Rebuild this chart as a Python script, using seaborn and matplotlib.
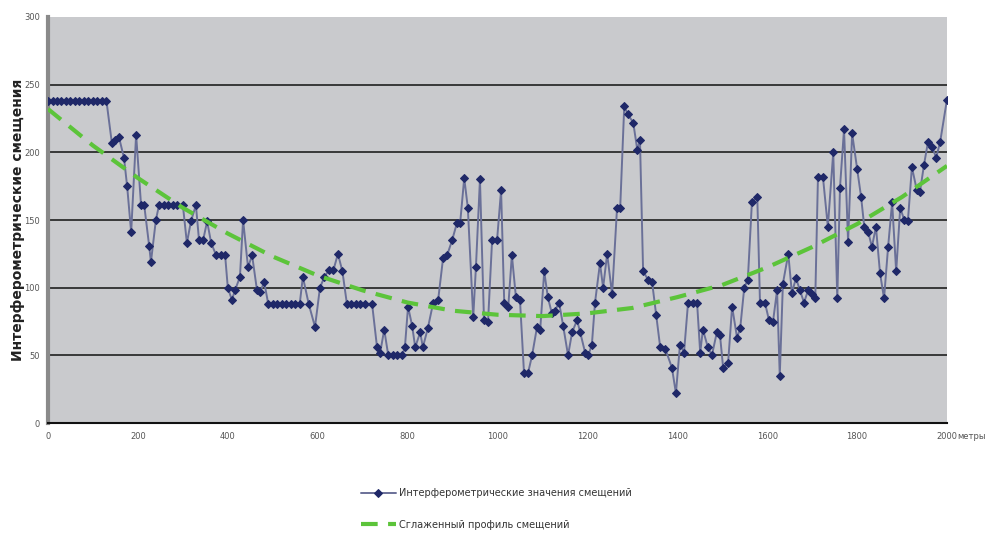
import matplotlib
matplotlib.use("Agg")
import matplotlib.pyplot as plt
import seaborn as sns

# distance along profile, metres
dist_m = [0, 10, 20, 30, 40, 50, 60, 70, 80, 90, 100, 110, 120, 130,
          142, 150, 158, 169, 176, 185, 196, 207, 214, 225, 229, 240,
          247, 257, 267, 277, 287, 300, 309, 318, 329, 336, 345, 354,
          363, 374, 385, 394, 400, 409, 416, 427, 434, 445, 454, 465,
          472, 481, 490, 500, 510, 520, 530, 540, 550, 560, 567, 580,
          594, 605, 615, 625, 635, 645, 655, 665, 675, 685, 695, 705,
          721, 732, 739, 748, 757, 767, 777, 788, 794, 801, 810, 817,
          828, 834, 845, 857, 868, 879, 888, 899, 910, 917, 926, 934,
          946, 952, 961, 970, 979, 988, 999, 1008, 1015, 1024, 1032, 1041,
          1050, 1059, 1068, 1077, 1088, 1095, 1104, 1112, 1121, 1128, 1137,
          1146, 1157, 1166, 1177, 1184, 1195, 1202, 1210, 1217, 1228, 1235,
          1244, 1255, 1266, 1273, 1282, 1290, 1302, 1311, 1317, 1324, 1335,
          1344, 1353, 1362, 1373, 1388, 1397, 1406, 1415, 1424, 1435, 1444,
          1451, 1457, 1468, 1477, 1488, 1495, 1502, 1513, 1522, 1533, 1540,
          1549, 1557, 1566, 1578, 1584, 1595, 1604, 1613, 1622, 1628, 1635,
          1647, 1655, 1664, 1673, 1682, 1691, 1700, 1707, 1713, 1724, 1735,
          1747, 1756, 1762, 1771, 1780, 1789, 1800, 1809, 1816, 1825, 1833,
          1842, 1851, 1860, 1869, 1878, 1887, 1896, 1905, 1913, 1922, 1933,
          1940, 1949, 1958, 1967, 1976, 1985, 2000]

# interferometric displacement values
disp = [238, 238, 238, 238, 238, 238, 238, 238, 238, 238, 238, 238, 238, 238,
        207, 209, 211, 196, 175, 141, 213, 161, 161, 131, 119, 150,
        161, 161, 161, 161, 161, 161, 133, 149, 161, 135, 135, 149,
        133, 124, 124, 124, 100, 91, 98, 108, 150, 115, 124, 98,
        97, 104, 88, 88, 88, 88, 88, 88, 88, 88, 108, 88,
        71, 100, 108, 113, 113, 125, 112, 88, 88, 88, 88, 88,
        88, 56, 52, 69, 50, 50, 50, 50, 56, 86, 72, 56,
        67, 56, 70, 89, 91, 122, 124, 135, 148, 148, 181, 159,
        78, 115, 180, 76, 75, 135, 135, 172, 89, 86, 124, 93,
        91, 37, 37, 50, 71, 69, 112, 93, 81, 83, 89,
        72, 50, 67, 76, 67, 52, 50, 58, 89, 118, 100,
        125, 95, 159, 159, 234, 228, 222, 202, 209, 112, 106,
        104, 80, 56, 55, 41, 22, 58, 52, 89, 89, 89,
        52, 69, 56, 50, 67, 65, 41, 44, 86, 63, 70,
        100, 106, 163, 167, 89, 89, 76, 75, 98, 35, 103,
        125, 96, 107, 98, 89, 98, 95, 92, 182, 182, 145,
        200, 92, 174, 217, 134, 214, 188, 167, 145, 141, 130,
        145, 111, 92, 130, 163, 112, 159, 150, 149, 189, 172,
        171, 191, 208, 204, 196, 208, 239]

# smoothed profile
smooth_x = [0, 100, 200, 300, 400, 500, 600, 700, 800, 900, 1000,
            1100, 1200, 1300, 1400, 1500, 1600, 1700, 1800, 1900, 2000]
smooth_y = [232, 205, 181, 159, 140, 123, 109, 98, 89, 83, 80,
            79, 81, 85, 93, 102, 115, 130, 147, 167, 190]

x_ticks = list(range(0, 2001, 200))
y_ticks = list(range(0, 301, 50))

label_data = "Интерферометрические значения смещений"
label_smooth = "Сглаженный профиль смещений"

sns.set_style("white")
plt.rcParams["font.family"] = ["DejaVu Sans"]

fig = plt.figure(figsize=(9.92, 5.36), dpi=100)
ax = fig.add_axes([0.0484, 0.2108, 0.9062, 0.7575])
ax.set_facecolor("#c9cacd")

sns.lineplot(x=dist_m, y=disp, ax=ax, sort=False, color="#6a7098",
             linewidth=1.4, marker="D", markersize=3.8,
             markerfacecolor="#1f2868", markeredgecolor="#1f2868",
             label=label_data, zorder=3)
sns.lineplot(x=smooth_x, y=smooth_y, ax=ax, color="#5cc43a",
             linewidth=3, linestyle="--", label=label_smooth, zorder=4)
ax.lines[-1].set_dashes([4, 2.5])

ax.set_xlim(0, 2000)
ax.set_ylim(0, 300)
ax.set_xticks(x_ticks)
ax.set_yticks(y_ticks)
ax.tick_params(axis="both", labelsize=6, colors="#555555", length=3)
ax.tick_params(axis="y", length=0, pad=6)
for y in y_ticks[1:-1]:
    ax.axhline(y, color="#111111", linewidth=1.1, zorder=1)

for side in ["top", "right"]:
    ax.spines[side].set_visible(False)
ax.spines["bottom"].set_color("#111111")
ax.spines["bottom"].set_linewidth(1.5)
ax.spines["left"].set_color("#8a8a8a")
ax.spines["left"].set_linewidth(3)

ax.set_xlabel("")
ax.set_ylabel("")
fig.text(0.018, 0.59, "Интерферометрические смещения", fontsize=10,
         fontweight="bold", color="#222222", rotation=90,
         ha="center", va="center")
fig.text(0.965, 0.185, "метры", fontsize=6, color="#555555",
         ha="left", va="center")

leg = ax.legend(loc="upper center", bbox_to_anchor=(0.50, 0.105),
                bbox_transform=fig.transFigure, frameon=False,
                fontsize=7, labelspacing=2.2, handlelength=3.6,
                handletextpad=0.3)
for t in leg.get_texts():
    t.set_color("#333333")

fig.savefig("out.png", dpi=100)
